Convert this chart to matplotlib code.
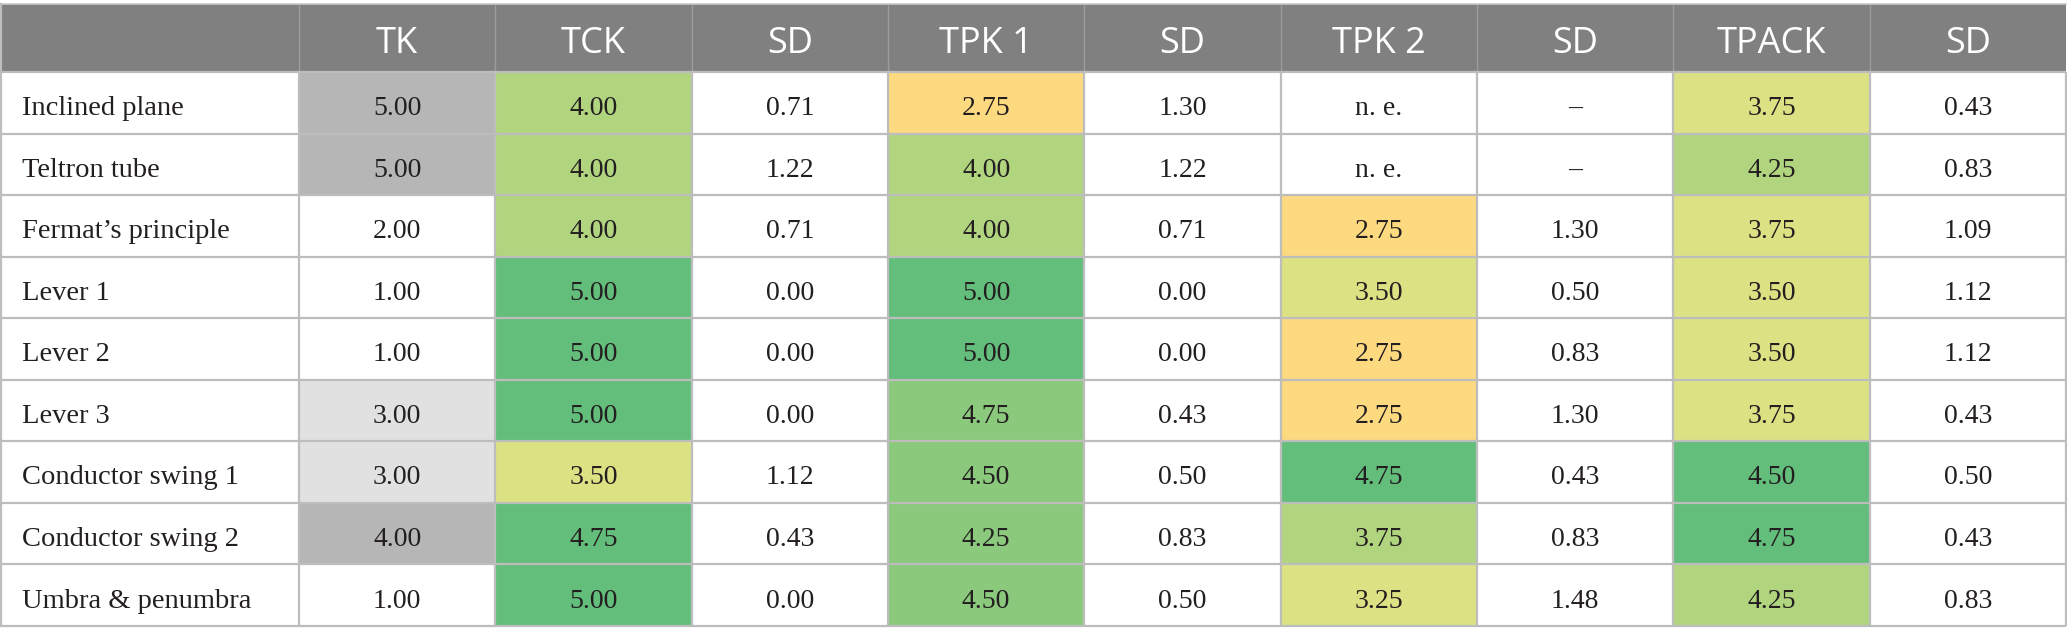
import matplotlib
matplotlib.use("Agg")
import matplotlib.pyplot as plt
from matplotlib.patches import Rectangle

# table content
tasks = ["Inclined plane", "Teltron tube", "Fermat\u2019s principle", "Lever 1", "Lever 2",
         "Lever 3", "Conductor swing 1", "Conductor swing 2", "Umbra & penumbra"]
headers = ["TK", "TCK", "SD", "TPK 1", "SD", "TPK 2", "SD", "TPACK", "SD"]

tk = [5.00, 5.00, 2.00, 1.00, 1.00, 3.00, 3.00, 4.00, 1.00]
tck = [4.00, 4.00, 4.00, 5.00, 5.00, 5.00, 3.50, 4.75, 5.00]
tck_sd = [0.71, 1.22, 0.71, 0.00, 0.00, 0.00, 1.12, 0.43, 0.00]
tpk1 = [2.75, 4.00, 4.00, 5.00, 5.00, 4.75, 4.50, 4.25, 4.50]
tpk1_sd = [1.30, 1.22, 0.71, 0.00, 0.00, 0.43, 0.50, 0.83, 0.50]
tpk2 = [None, None, 2.75, 3.50, 2.75, 2.75, 4.75, 3.75, 3.25]   # None = not evaluated
tpk2_sd = [None, None, 1.30, 0.50, 0.83, 1.30, 0.43, 0.83, 1.48]
tpack = [3.75, 4.25, 3.75, 3.50, 3.50, 3.75, 4.50, 4.75, 4.25]
tpack_sd = [0.43, 0.83, 1.09, 1.12, 1.12, 0.43, 0.50, 0.43, 0.83]

# cell shading
tk_shade = ["g2", "g2", "w", "w", "w", "g1", "g1", "g2", "w"]
tck_shade = ["lg", "lg", "lg", "dg", "dg", "dg", "yg", "dg", "dg"]
tpk1_shade = ["or", "lg", "lg", "dg", "dg", "mg", "mg", "mg", "mg"]
tpk2_shade = ["w", "w", "or", "yg", "or", "or", "dg", "lg", "yg"]
tpack_shade = ["yg", "lg", "yg", "yg", "yg", "yg", "dg", "dg", "lg"]

palette = {"w": "white", "g1": "#e1e1e1", "g2": "#b6b6b6", "or": "#fdd980",
           "yg": "#dce183", "lg": "#b1d57f", "mg": "#8bc97d", "dg": "#63be7b"}

columns = [
    (tk, tk_shade), (tck, tck_shade), (tck_sd, None), (tpk1, tpk1_shade), (tpk1_sd, None),
    (tpk2, tpk2_shade), (tpk2_sd, None), (tpack, tpack_shade), (tpack_sd, None),
]

fig = plt.figure(figsize=(20.67, 6.44), dpi=100)
ax = fig.add_axes([0, 0, 1, 1])
ax.set_xlim(0, 2067)
ax.set_ylim(644, 0)
ax.axis("off")

left, right = 1, 2066
first_w = 299
col_w = (right - first_w) / len(headers)
top, head_bot, bottom = 4, 72, 626
row_h = (bottom - head_bot) / len(tasks)
grid = "#bdbdbd"
serif = ["Liberation Serif", "DejaVu Serif"]
sans = ["Open Sans", "DejaVu Sans"]
ink = "#231f20"

# header
ax.add_patch(Rectangle((left, top), right - left, head_bot - top, facecolor="#7f807f",
                       edgecolor="none"))
for j, h in enumerate(headers):
    x0 = first_w + j * col_w
    ax.plot([x0, x0], [top, head_bot], color="#9c9c9c", lw=1.0)
    ax.text(x0 + col_w / 2, 53, h, ha="center", va="baseline",
            color="white", fontsize=26, family=sans)

# body
for i, task in enumerate(tasks):
    y0 = head_bot + i * row_h
    yb = y0 + row_h * 0.70
    ax.text(left + 21, yb, task, ha="left", va="baseline", fontsize=20.5,
            family=serif, color=ink)
    for j, (vals, shade) in enumerate(columns):
        x0 = first_w + j * col_w
        if shade is not None:
            ax.add_patch(Rectangle((x0, y0), col_w, row_h, facecolor=palette[shade[i]],
                                   edgecolor="none"))
        v = vals[i]
        if v is None:
            label = "n. e." if shade is not None else "\u2013"
        else:
            label = f"{v:.2f}"
        ax.text(x0 + col_w / 2, yb, label, ha="center", va="baseline", fontsize=20,
                family=serif, color=ink)

# grid lines
for i in range(len(tasks) + 1):
    y = head_bot + i * row_h
    ax.plot([left, right], [y, y], color=grid, lw=1.6, solid_capstyle="butt")
ax.plot([left, right], [top, top], color="#c8c8c8", lw=1.2)
for j in range(len(headers) + 1):
    x = first_w + j * col_w
    ax.plot([x, x], [head_bot, bottom], color=grid, lw=1.6, solid_capstyle="butt")
ax.plot([left, left], [top, bottom], color=grid, lw=1.6)

fig.savefig("out.png", dpi=100, facecolor="white")
